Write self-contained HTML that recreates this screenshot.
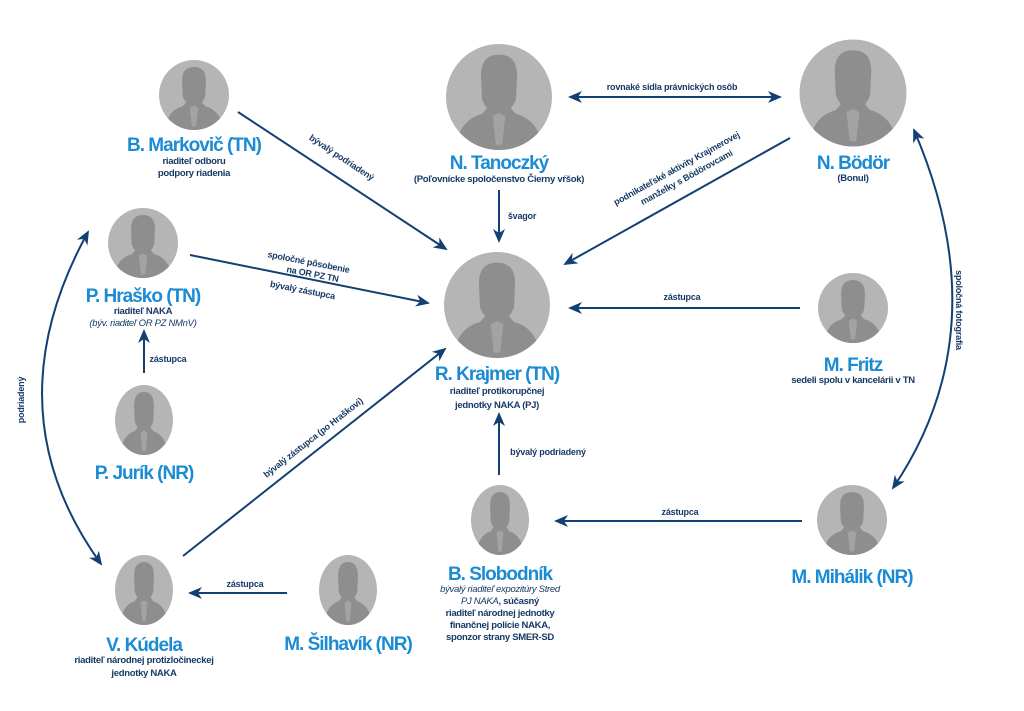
<!DOCTYPE html>
<html><head><meta charset="utf-8"><style>
html,body{margin:0;padding:0;background:#fff;}
svg{display:block;font-family:"Liberation Sans",sans-serif;}
.n{fill:#1b8bd4;font-weight:bold;font-size:19px;text-anchor:middle;letter-spacing:-1px}
.s{fill:#173a66;font-weight:bold;font-size:9.5px;text-anchor:middle;letter-spacing:-0.3px}
.i{font-style:italic;font-weight:normal}
.l{fill:#173a66;font-weight:bold;font-size:9px;text-anchor:middle;letter-spacing:-0.2px}
.a{stroke:#123f74;stroke-width:2;fill:none}
</style></head><body>
<svg width="1024" height="711" viewBox="0 0 1024 711">
<defs>
<clipPath id="cc"><circle cx="0" cy="0" r="50"/></clipPath>
<g id="av">
<circle cx="0" cy="0" r="50" fill="#b5b5b5"/>
<g clip-path="url(#cc)" fill="#8e8e8e">
<path d="M-42,55 Q-40,22 -16,16 L-9,8 L9,8 L16,16 Q40,22 42,55 Z"/>
<path d="M-17,-18 Q-18,-40 0,-40 Q18,-40 17,-18 L16,2 Q12,14 0,16 Q-12,14 -16,2 Z"/>
<path d="M-6,18 L0,15 L6,18 L3,45 L-3,45 Z" fill="#a3a3a3"/>
</g></g>
<marker id="m" markerWidth="14" markerHeight="12" refX="12" refY="6" orient="auto" markerUnits="userSpaceOnUse"><path d="M0,0 L14,6 L0,12 L4,6 Z" fill="#123f74"/></marker>
<marker id="ms" markerWidth="14" markerHeight="12" refX="2" refY="6" orient="auto" markerUnits="userSpaceOnUse"><path d="M14,0 L0,6 L14,12 L10,6 Z" fill="#123f74"/></marker>
</defs>

<use href="#av" transform="translate(194,95) scale(0.7)"/>
<use href="#av" transform="translate(499,97) scale(1.06)"/>
<use href="#av" transform="translate(853,93) scale(1.07)"/>
<use href="#av" transform="translate(143,243) scale(0.7)"/>
<use href="#av" transform="translate(497,305) scale(1.06)"/>
<use href="#av" transform="translate(853,308) scale(0.7)"/>
<use href="#av" transform="translate(144,420) scale(0.58,0.7)"/>
<use href="#av" transform="translate(500,520) scale(0.58,0.7)"/>
<use href="#av" transform="translate(852,520) scale(0.7)"/>
<use href="#av" transform="translate(144,590) scale(0.58,0.7)"/>
<use href="#av" transform="translate(348,590) scale(0.58,0.7)"/>

<line class="a" x1="238" y1="112" x2="446" y2="249" marker-end="url(#m)"/>
<line class="a" x1="570" y1="97" x2="780" y2="97" marker-start="url(#ms)" marker-end="url(#m)"/>
<line class="a" x1="499" y1="190" x2="499" y2="241" marker-end="url(#m)"/>
<line class="a" x1="790" y1="138" x2="565" y2="264" marker-end="url(#m)"/>
<line class="a" x1="190" y1="255" x2="428" y2="303" marker-end="url(#m)"/>
<line class="a" x1="800" y1="308" x2="570" y2="308" marker-end="url(#m)"/>
<line class="a" x1="144" y1="373" x2="144" y2="331" marker-end="url(#m)"/>
<line class="a" x1="183" y1="556" x2="445" y2="349" marker-end="url(#m)"/>
<line class="a" x1="499" y1="475" x2="499" y2="414" marker-end="url(#m)"/>
<line class="a" x1="802" y1="521" x2="556" y2="521" marker-end="url(#m)"/>
<line class="a" x1="287" y1="593" x2="190" y2="593" marker-end="url(#m)"/>
<path class="a" d="M88,232 Q-10,410 101,564" marker-start="url(#ms)" marker-end="url(#m)" stroke-width="2.5"/>
<path class="a" d="M914,130 Q1000,330 893,488" marker-start="url(#ms)" marker-end="url(#m)" stroke-width="2.5"/>

<text class="l" transform="translate(340,160) rotate(33.5)">bývalý podriadený</text>
<text class="l" x="672" y="90">rovnaké sídla právnických osôb</text>
<text class="l" x="522" y="219">švagor</text>
<text class="l" transform="translate(678,171) rotate(-29)">podnikateľské aktivity Krajmerovej</text>
<text class="l" transform="translate(688,180) rotate(-29)">manželky s Bödörovcami</text>
<text class="l" transform="translate(308,265) rotate(11)">spoločné pôsobenie</text>
<text class="l" transform="translate(312,277) rotate(11)">na OR PZ  TN</text>
<text class="l" transform="translate(302,293) rotate(11)">bývalý zástupca</text>
<text class="l" x="682" y="300">zástupca</text>
<text class="l" x="168" y="362">zástupca</text>
<text class="l" transform="translate(315,440) rotate(-38)">bývalý zástupca (po Hraškovi)</text>
<text class="l" x="548" y="455">bývalý podriadený</text>
<text class="l" x="680" y="515">zástupca</text>
<text class="l" x="245" y="587">zástupca</text>
<text class="l" transform="translate(24,400) rotate(-90)">podriadený</text>
<text class="l" transform="translate(956,310) rotate(90)">spoločná fotografia</text>

<text class="n" x="194" y="151">B. Markovič (TN)</text>
<text class="s" x="194" y="164">riaditeľ odboru</text>
<text class="s" x="194" y="176">podpory riadenia</text>

<text class="n" x="499" y="169">N. Tanoczký</text>
<text class="s" x="499" y="182">(Poľovnícke spoločenstvo Čierny vŕšok)</text>

<text class="n" x="853" y="169">N. Bödör</text>
<text class="s" x="853" y="181">(Bonul)</text>

<text class="n" x="143" y="302">P. Hraško (TN)</text>
<text class="s" x="143" y="314">riaditeľ NAKA</text>
<text class="s i" x="143" y="326">(býv. riaditeľ OR PZ  NMnV)</text>

<text class="n" x="144" y="479">P. Jurík (NR)</text>

<text class="n" x="497" y="380">R. Krajmer (TN)</text>
<text class="s" x="497" y="394">riaditeľ protikorupčnej</text>
<text class="s" x="497" y="408">jednotky NAKA (PJ)</text>

<text class="n" x="853" y="371">M. Fritz</text>
<text class="s" x="853" y="383">sedeli spolu v kancelárii v TN</text>

<text class="n" x="852" y="583">M. Mihálik (NR)</text>

<text class="n" x="500" y="580">B. Slobodník</text>
<text class="s" x="500" y="592"><tspan class="i">bývalý riaditeľ expozitúry Stred</tspan></text>
<text class="s" x="500" y="604"><tspan class="i">PJ NAKA</tspan>, súčasný</text>
<text class="s" x="500" y="616">riaditeľ národnej jednotky</text>
<text class="s" x="500" y="628">finančnej polície NAKA,</text>
<text class="s" x="500" y="640">sponzor strany SMER-SD</text>

<text class="n" x="144" y="651">V. Kúdela</text>
<text class="s" x="144" y="663">riaditeľ národnej protizločineckej</text>
<text class="s" x="144" y="676">jednotky NAKA</text>

<text class="n" x="348" y="650">M. Šilhavík (NR)</text>
</svg>
</body></html>
